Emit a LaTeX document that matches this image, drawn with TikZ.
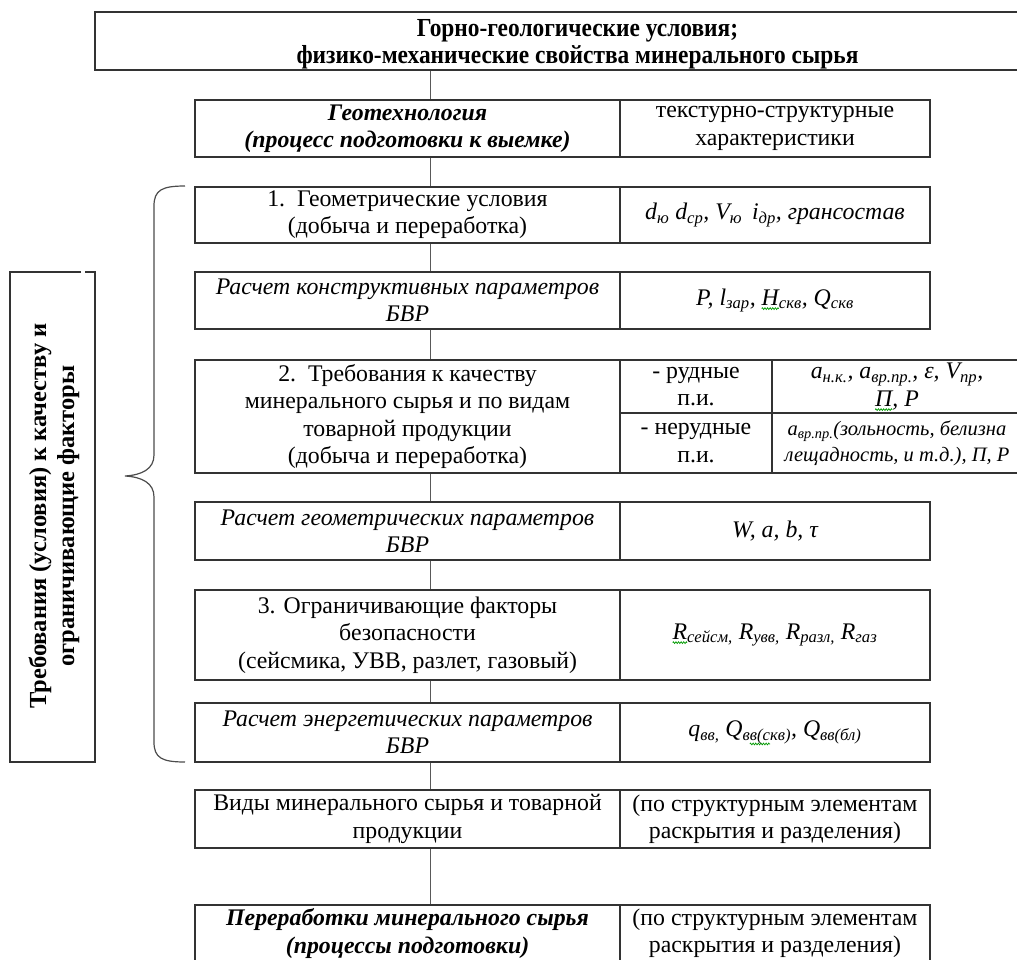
\documentclass[tikz,border=0pt]{standalone}
\usepackage{fontspec}
\usetikzlibrary{decorations.pathmorphing}
\setmainfont{Liberation Serif}
\newfontfamily\headfont[FakeStretch=0.9]{Liberation Serif}
\newcommand\fs{\fontsize{23.8}{27.3}\selectfont}
% wavy spell-check underline under a piece of text
\newlength\sqw
\newcommand\squig[1]{\setbox0\hbox{#1}\setlength\sqw{\wd0}%
  \rlap{\tikz[overlay,x=1pt,y=1pt]\draw[green!60!black,line width=0.7pt,
    decorate,decoration={zigzag,segment length=2.6pt,amplitude=0.9pt}]
    (0pt,-3.5pt) -- (\sqw,-3.5pt);}\box0}
\begin{document}
\begin{tikzpicture}[x=1pt,y=-1pt,
  cell/.style={draw=black!80, line width=1.3pt, inner sep=0pt, align=center, font=\fs},
  calc/.style={cell, font=\fs\itshape},
  formula/.style={cell, font=\fs\itshape},
  link/.style={draw=black!65, line width=1pt}]
\useasboundingbox (0,0) rectangle (1017,960);

% header
\node[cell, minimum width=965, minimum height=58] (top) at (577.5,41) {};
\node[align=center, inner sep=0pt, font=\headfont\fontsize{26}{27}\selectfont\bfseries] (topText) at (577.5,44)
  {Горно-геологические условия;\\физико-механические свойства минерального сырья};

% geotechnology row
\node[cell, minimum width=425, minimum height=57, font=\fs\bfseries\itshape] (geo) at (407.5,128.5)
  {Геотехнология\\(процесс подготовки к выемке)};
\node[cell, minimum width=310, minimum height=57] (geoR) at (775,128.5)
  {текстурно-структурные\\характеристики};

% 1. geometric conditions
\node[cell, minimum width=425, minimum height=56] (g1) at (407.5,215)
  {1.\enspace Геометрические условия\\(добыча и переработка)};
\node[formula, minimum width=310, minimum height=56] (g1R) at (775,215)
  {d\textsubscript{ю} d\textsubscript{ср}, V\textsubscript{ю}\, i\textsubscript{др}, грансостав};

\node[calc, minimum width=425, minimum height=57] (c1) at (407.5,300.5)
  {Расчет конструктивных параметров\\БВР};
\node[formula, minimum width=310, minimum height=57] (c1R) at (775,300.5)
  {P, l\textsubscript{зар}, \squig{H}\textsubscript{скв}, Q\textsubscript{скв}};

% 2. quality requirements
\node[cell, minimum width=425, minimum height=113] (g2) at (407.5,416.5)
  {2.\enspace Требования к качеству\\минерального сырья и по видам\\товарной продукции\\(добыча и переработка)};
\node[cell, minimum width=152, minimum height=53] (ore) at (696,386.5)
  {- рудные\\п.и.};
\node[cell, minimum width=152, minimum height=60] (nonore) at (696,443)
  {- нерудные\\п.и.};
\node[formula, minimum width=250, minimum height=53] (oreR) at (897,386.5)
  {a\textsubscript{н.к.}, a\textsubscript{вр.пр.}, ε, V\textsubscript{пр},\\\squig{П}, Р};
\node[formula, minimum width=250, minimum height=60, font=\fontsize{20.5}{26}\selectfont\itshape] (nonoreR) at (897,443)
  {a\textsubscript{вр.пр.}(зольность, белизна\\лещадность, и т.д.), П, Р};

\node[calc, minimum width=425, minimum height=58] (c2) at (407.5,531)
  {Расчет геометрических параметров\\БВР};
\node[formula, minimum width=310, minimum height=58] (c2R) at (775,531)
  {W, a, b, τ};

% 3. safety limits
\node[cell, minimum width=425, minimum height=90] (g3) at (407.5,635)
  {3. Ограничивающие факторы\\безопасности\\(сейсмика, УВВ, разлет, газовый)};
\node[formula, minimum width=310, minimum height=90] (g3R) at (775,635)
  {\squig{R}\textsubscript{сейсм,} R\textsubscript{увв,} R\textsubscript{разл,} R\textsubscript{газ}};

\node[calc, minimum width=425, minimum height=59] (c3) at (407.5,732.5)
  {Расчет энергетических параметров\\БВР};
\node[formula, minimum width=310, minimum height=59] (c3R) at (775,732.5)
  {q\textsubscript{вв,} Q\textsubscript{в\squig{в(с}кв)}, Q\textsubscript{вв(бл)}};

% products
\node[cell, minimum width=425, minimum height=58] (kinds) at (407.5,819)
  {Виды минерального сырья и товарной\\продукции};
\node[cell, minimum width=310, minimum height=58] (kindsR) at (775,819)
  {(по структурным элементам\\раскрытия и разделения)};

\node[cell, minimum width=425, minimum height=57, font=\fs\bfseries\itshape] (proc) at (407.5,933.5)
  {Переработки минерального сырья\\(процессы подготовки)};
\node[cell, minimum width=310, minimum height=57] (procR) at (775,933.5)
  {(по структурным элементам\\раскрытия и разделения)};

% vertical links
\foreach \a/\b in {top/geo, geo/g1, g1/c1, c1/g2, g2/c2, c2/g3, g3/c3, c3/kinds, kinds/proc}
  \draw[link] (\a.south -| 430,0) -- (\b.north -| 430,0);

% side label
\node[rotate=90, align=center, font=\fontsize{24.5}{28}\selectfont\bfseries] (side) at (54,516)
  {Требования (условия) к качеству и\\ограничивающие факторы};
\draw[draw=black!80, line width=1.3pt] (81,272) -- (10,272) -- (10,762) -- (95,762) -- (95,272) -- (85,272);

% brace
\draw[draw=black!70, line width=1.2pt]
  (185,186) .. controls (162,186) and (154,190) .. (154,206) -- (154,455)
  .. controls (154,469) and (142,475) .. (125,476)
  .. controls (142,477) and (154,483) .. (154,497) -- (154,742)
  .. controls (154,758) and (162,762) .. (185,762);
\end{tikzpicture}
\end{document}
